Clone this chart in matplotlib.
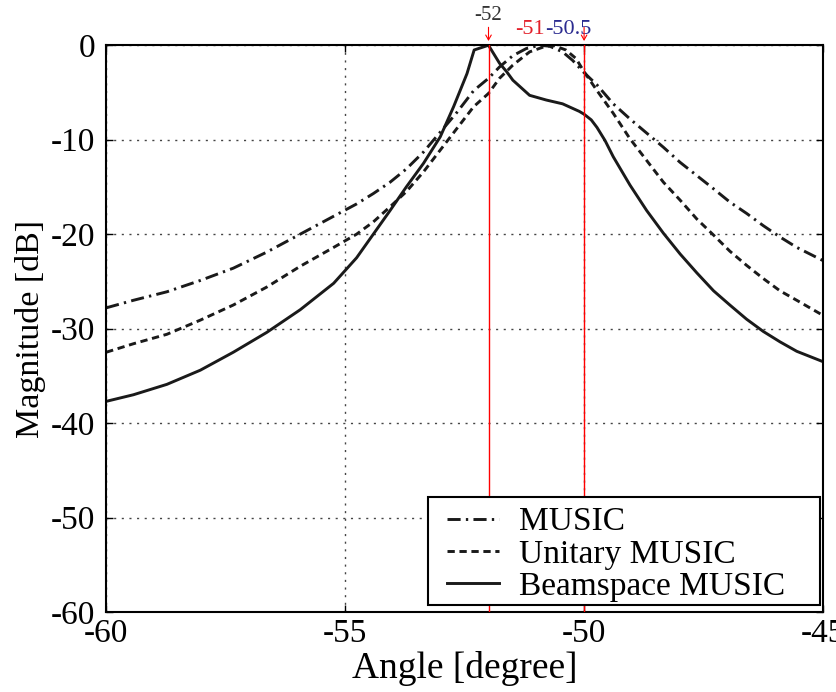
import numpy as np
import matplotlib as mpl
mpl.use('agg')
from matplotlib import pyplot as plt
from matplotlib.patches import Rectangle

plt.rcParams['font.family'] = ['Liberation Serif', 'DejaVu Sans']

# values
music_x = [-60, -59.43, -58.73, -58.03, -57.34, -56.64, -55.94, -55.24, -54.76, -54.41,
           -54.06, -53.72, -53.36, -53.01, -52.66, -52.31, -52.0, -51.77, -51.49, -51.21,
           -50.93, -50.72, -50.45, -50.24, -50.0, -49.73, -49.39, -49.04, -48.69, -48.34,
           -47.99, -47.64, -47.29, -46.95, -46.6, -46.25, -45.9, -45.55, -45.0]
music_y = [-27.8, -27.0, -26.1, -24.9, -23.6, -21.9, -20.0, -18.1, -16.8, -15.7,
           -14.5, -13.1, -11.3, -9.2, -7.1, -4.8, -3.5, -2.3, -1.1, -0.35,
           0.0, -0.1, -0.7, -1.6, -2.9, -4.2, -6.2, -7.8, -9.3, -10.8,
           -12.4, -13.8, -15.2, -16.6, -17.8, -19.1, -20.3, -21.4, -22.8]

umusic_x = [-60, -59.43, -58.73, -58.03, -57.34, -56.64, -55.94, -55.24, -54.76, -54.41,
            -54.06, -53.72, -53.36, -53.01, -52.66, -52.31, -52.0, -51.77, -51.49, -51.14,
            -50.86, -50.65, -50.38, -50.17, -50.0, -49.73, -49.39, -49.04, -48.69, -48.34,
            -47.99, -47.64, -47.29, -46.95, -46.6, -46.25, -45.9, -45.55, -45.0]
umusic_y = [-32.5, -31.6, -30.6, -29.1, -27.5, -25.6, -23.4, -21.4, -20.0, -18.7,
            -17.1, -15.5, -13.4, -11.1, -8.8, -6.5, -5.1, -3.5, -2.1, -0.7,
            -0.2, 0.0, -0.5, -1.4, -2.8, -4.8, -7.2, -9.9, -12.2, -14.5,
            -16.4, -18.4, -20.1, -21.8, -23.3, -24.7, -26.0, -27.0, -28.6]

bmusic_x = [-60, -59.43, -58.73, -58.03, -57.34, -56.64, -55.94, -55.24, -54.76, -54.41,
            -54.06, -53.72, -53.36, -53.01, -52.73, -52.45, -52.3, -52.0, -51.77, -51.62,
            -51.49, -51.14, -50.79, -50.45, -50.1, -50.0, -49.85, -49.73, -49.56, -49.39,
            -49.04, -48.69, -48.34, -47.99, -47.64, -47.29, -46.95, -46.6, -46.25, -45.9,
            -45.55, -45.0]
bmusic_y = [-37.7, -37.0, -35.9, -34.4, -32.5, -30.4, -28.0, -25.2, -22.5, -20.0,
            -17.5, -15.0, -12.5, -9.7, -6.5, -3.0, -0.5, 0.0, -1.9, -2.8,
            -3.7, -5.3, -5.8, -6.2, -7.0, -7.3, -7.9, -8.7, -10.1, -11.8,
            -14.8, -17.5, -19.9, -22.1, -24.1, -26.0, -27.5, -29.0, -30.3, -31.4,
            -32.4, -33.5]

marks = [-52, -50]

fig = plt.figure(figsize=(8.36, 6.92), dpi=100)
ax = fig.add_axes([0.127, 0.1156, 0.8575, 0.819])

ax.plot(music_x, music_y, color='#1a1a1a', lw=2.1, dashes=(4.5, 1.8, 0.8, 1.8), label='MUSIC')
ax.plot(umusic_x, umusic_y, color='#1a1a1a', lw=2.1, dashes=(2.5, 1.6), label='Unitary MUSIC')
ax.plot(bmusic_x, bmusic_y, color='#1a1a1a', lw=2.1, label='Beamspace MUSIC')

for m in marks:
    ax.axvline(m, color='red', lw=1.0, zorder=3)

ax.set_xlim(-60, -45)
ax.set_ylim(-60, 0)
ax.set_xticks([-60, -55, -50, -45])
ax.set_yticks(range(-60, 1, 10))
ax.set_xticklabels(['-60', '-55', '-50', '-45'])
ax.set_yticklabels([str(v) for v in range(-60, 1, 10)])
ax.tick_params(axis='both', direction='in', labelsize=24, length=5, width=1, top=True, right=True)
ax.tick_params(axis='y', pad=8)
ax.tick_params(axis='x', pad=5)
ax.grid(True, color='#444444', lw=1.0, linestyle=(0, (1.5, 4)))
for s in ax.spines.values():
    s.set_linewidth(1.5)

ax.set_xlabel('Angle [degree]', fontsize=27, labelpad=1)
ax.set_ylabel('Magnitude [dB]', fontsize=24.5, labelpad=3)

# peak annotations above the axes
ax.text(-52, 3.2, '-52', ha='center', va='center', fontsize=15, color='#333333', clip_on=False)
ax.text(-50.82, 1.7, '-51', ha='right', va='center', fontsize=16, color='#e3202a', clip_on=False)
ax.text(-50.82, 1.7, '-50.5', ha='left', va='center', fontsize=16, color='#2b2b90', clip_on=False)
for m in marks:
    ax.annotate('', xy=(m, 0.45), xytext=(m, 1.9), annotation_clip=False,
                arrowprops=dict(arrowstyle='->, head_length=0.35, head_width=0.2',
                                color='red', lw=0.8, shrinkA=0, shrinkB=0))

leg = ax.legend(loc='upper left', bbox_to_anchor=(447 / 836, 1 - 507 / 692),
                bbox_transform=fig.transFigure, fontsize=24, frameon=False,
                borderpad=0, borderaxespad=0, handlelength=1.56, handletextpad=0.6,
                labelspacing=0.05)
box = Rectangle((428 / 836, 1 - 605 / 692), 392 / 836, 108 / 692, transform=fig.transFigure,
                facecolor='white', edgecolor='black', lw=1.5, zorder=4.5, clip_on=False)
ax.add_patch(box)

plt.savefig('out.png', dpi=100)
